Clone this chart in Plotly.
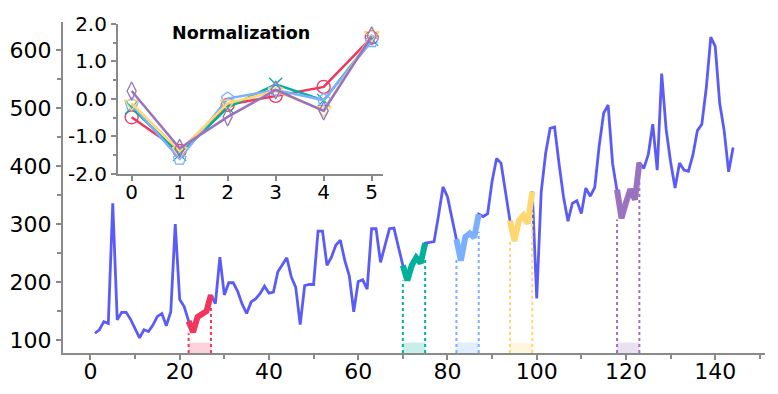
import plotly.graph_objects as go

# ---------------- data ----------------
time_index = list(range(1, 145))
passengers = [
    112, 118, 132, 129, 336, 135, 148, 148, 136, 119, 104, 118,
    115, 126, 141, 146, 125, 149, 300, 170, 158, 133, 114, 140,
    145, 150, 178, 163, 243, 178, 199, 199, 184, 162, 146, 166,
    171, 180, 193, 181, 183, 218, 230, 242, 209, 191, 127, 194,
    196, 196, 288, 288, 229, 243, 264, 272, 237, 211, 149, 201,
    204, 188, 292, 292, 234, 264, 292, 293, 259, 229, 203, 229,
    242, 233, 267, 269, 270, 315, 364, 347, 312, 274, 237, 278,
    284, 277, 317, 313, 318, 374, 413, 405, 355, 306, 271, 306,
    315, 301, 356, 172, 355, 422, 465, 467, 404, 347, 305, 336,
    340, 318, 362, 348, 363, 435, 491, 505, 404, 359, 310, 337,
    360, 342, 406, 396, 420, 472, 393, 559, 463, 407, 362, 405,
    393, 391, 419, 461, 472, 535, 622, 606, 508, 461, 390, 432,
]

seg_starts = [22, 70, 82, 94, 118]
seg_ends = [27, 75, 87, 99, 123]
dot_top_left = [112, 203, 240, 270, 308]
dot_top_right = [158, 238, 287, 322, 373]
band_top = 96

norm_steps = [0, 1, 2, 3, 4, 5]
norm_red = [-0.49, -1.39, -0.16, 0.08, 0.32, 1.64]
norm_teal = [-0.23, -1.48, -0.23, 0.39, -0.04, 1.59]
norm_blue = [-0.15, -1.60, 0.01, 0.24, -0.03, 1.54]
norm_yellow = [-0.12, -1.39, -0.12, 0.21, -0.30, 1.71]
norm_purple = [0.21, -1.32, -0.48, 0.24, -0.32, 1.68]

inset_yticks = [-2, -1, 0, 1, 2]
inset_ylabels = ["-2.0", "-1.0", "0.0", "1.0", "2.0"]

# ---------------- style ----------------
FONT = "DejaVu Sans"
MAIN_COLOR = "#5b5bf8"
seg_colors = ["#f0365c", "#00b09a", "#7ab0ff", "#ffd770", "#9b72c0"]
seg_rgb = [(240, 54, 92), (0, 176, 154), (122, 176, 255), (255, 215, 112), (155, 114, 192)]
markers = ["circle-open", "x-thin-open", "pentagon-open", "triangle-down-open", "diamond-tall-open"]
norm_series = [norm_red, norm_teal, norm_blue, norm_yellow, norm_purple]
AX_GRAY = "#8a8a8a"
Y_MIN, Y_MAX = 78, 648

fig = go.Figure()

# main series
fig.add_trace(go.Scatter(x=time_index, y=passengers, mode="lines",
                         line=dict(color=MAIN_COLOR, width=2.8),
                         showlegend=False, hoverinfo="skip"))

shapes = []
for i, (s, e) in enumerate(zip(seg_starts, seg_ends)):
    col = seg_colors[i]
    r, g, b = seg_rgb[i]
    shapes.append(dict(type="rect", xref="x", yref="y", x0=s, x1=e, y0=Y_MIN, y1=band_top,
                       fillcolor=f"rgba({r},{g},{b},0.22)", line=dict(width=0), layer="below"))
    fig.add_trace(go.Scatter(x=[s, s, None, e, e],
                             y=[Y_MIN, dot_top_left[i], None, Y_MIN, dot_top_right[i]],
                             mode="lines", line=dict(color=col, width=2, dash="dot"),
                             showlegend=False, hoverinfo="skip"))
    fig.add_trace(go.Scatter(x=time_index[s - 1:e], y=passengers[s - 1:e], mode="lines",
                             line=dict(color=col, width=6),
                             showlegend=False, hoverinfo="skip"))

# inset normalization plot
for i, vals in enumerate(norm_series):
    fig.add_trace(go.Scatter(x=norm_steps, y=vals, mode="lines+markers",
                             xaxis="x2", yaxis="y2",
                             line=dict(color=seg_colors[i], width=2.5),
                             marker=dict(symbol=markers[i], size=13,
                                         color=seg_colors[i],
                                         line=dict(color=seg_colors[i], width=1.3)),
                             showlegend=False, hoverinfo="skip"))

main_font = dict(family=FONT, size=22, color="black")
inset_font = dict(family=FONT, size=20, color="black")
common = dict(showline=True, linecolor=AX_GRAY, linewidth=2,
              ticks="outside", ticklen=5, tickwidth=1.5, tickcolor=AX_GRAY,
              showgrid=False, zeroline=False, automargin=False)

fig.update_layout(
    width=778, height=394,
    margin=dict(l=63, r=13, t=22, b=41),
    paper_bgcolor="white", plot_bgcolor="white",
    shapes=shapes,
    xaxis=dict(range=[-6.15, 151.15], domain=[0, 1], anchor="y",
               tick0=0, dtick=20, ticklabelstandoff=-7, tickfont=main_font,
               minor=dict(dtick=10, ticks="outside", ticklen=4, tickwidth=1.5, tickcolor=AX_GRAY),
               **common),
    yaxis=dict(range=[Y_MIN, Y_MAX], domain=[0, 1], anchor="x",
               tick0=0, dtick=100, tickfont=main_font,
               minor=dict(dtick=50, ticks="outside", ticklen=4, tickwidth=1.5, tickcolor=AX_GRAY),
               **common),
    xaxis2=dict(range=[-0.285, 5.235], domain=[0.0783, 0.4558], anchor="y2",
                tick0=0, dtick=1, ticklabelstandoff=-6, tickfont=inset_font, **common),
    yaxis2=dict(range=[-2, 2], domain=[0.5413, 0.994], anchor="x2",
                tickmode="array", tickvals=inset_yticks, ticktext=inset_ylabels,
                tickfont=inset_font,
                minor=dict(dtick=0.5, ticks="outside", ticklen=3, tickwidth=1.5, tickcolor=AX_GRAY),
                **common),
    annotations=[dict(text="<b>Normalization</b>", xref="x2 domain", yref="y2 domain",
                      x=0.463, y=0.943, xanchor="center", yanchor="middle",
                      showarrow=False, font=dict(family=FONT, size=17.5, color="black"))],
)

fig.write_html("out.html",
               config={"displayModeBar": False},
               post_script="document.body.style.margin='0';document.body.style.padding='0';")
